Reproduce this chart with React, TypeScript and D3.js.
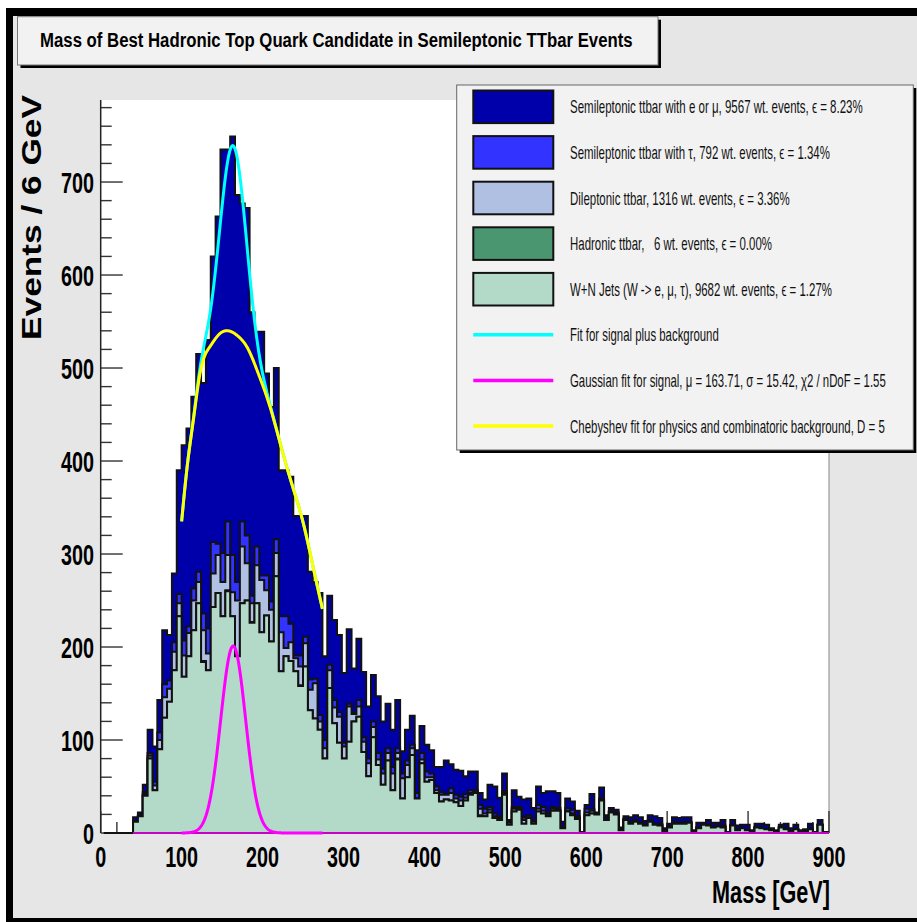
import React, { useLayoutEffect, useRef, useState } from 'react';
import * as d3 from 'd3';

// ---------- data ----------
const binStart = 4; // GeV, lower edge of first bin
const binWidth = 6; // GeV per bin

const wjets = [
  0, 0, 0, 0, 0, 0,
  12, 18, 40, 80, 46, 90, 124, 141, 175, 233,
  168, 190, 218, 247, 184, 175, 243, 258, 233, 260,
  233, 190, 247, 250, 226, 247, 216, 234, 206, 276,
  174, 190, 185, 174, 158, 179, 132, 123, 111, 80,
  156, 118, 97, 80, 98, 120, 125, 87, 61, 103,
  73, 52, 78, 46, 79, 37, 60, 84, 37, 75,
  55, 57, 43, 34, 36, 35, 33, 29, 35, 41,
  43, 18, 18, 22, 16, 14, 41, 9, 23, 25,
  10, 16, 10, 23, 21, 18, 24, 24, 5, 23,
  19, 15, 0, 19, 21, 20, 35, 14, 22, 20,
  3, 14, 10, 12, 10, 8, 12, 9, 8, 2,
  6, 10, 10, 10, 11, 1, 5, 9, 8, 6,
  7, 6, 0, 8, 3, 5, 3, 1, 6, 5,
  4, 3, 1, 6, 4, 2, 4, 1, 2, 4,
  0, 9, 0, 0,
];

const hadronic = [
  0, 0, 0, 0, 0, 0, 0, 0, 0, 0,
  0, 0, 0, 0, 0, 0, 0, 0, 0, 0,
  1, 0, 0, 0, 0, 1, 0, 0, 0, 0,
  1, 0, 0, 0, 0, 0, 0, 0, 0, 0,
  1, 0, 0, 0, 0, 0, 0, 0, 0, 0,
  0, 0, 0, 0, 0, 0, 0, 0, 0, 0,
  1, 0, 0, 0, 0, 0, 0, 0, 0, 0,
  0, 0, 0, 0, 0, 0, 0, 1, 0, 0,
  0, 0, 0, 0, 0, 0, 0, 0, 0, 0,
  0, 0, 0, 0, 0, 0, 0, 0, 0, 0,
  0, 0, 0, 0, 0, 0, 0, 0, 0, 0,
  0, 0, 0, 0, 0, 0, 0, 0, 0, 0,
  0, 0, 0, 0, 0, 0, 0, 0, 0, 0,
  0, 0, 0, 0, 0, 0, 0, 0, 0, 0,
  0, 0, 0, 0, 0, 0, 0, 0, 0, 0,
];

const dilepton = [
  0, 0, 0, 0, 0, 0,
  0, 0, 2, 3, 5, 10, 22, 14, 20, 14,
  23, 25, 32, 23, 33, 18, 36, 41, 37, 38,
  26, 60, 61, 40, 20, 41, 56, 27, 34, 25,
  42, 9, 20, 14, 20, 25, 22, 38, 9, 11,
  19, 17, 28, 13, 38, 8, 11, 11, 14, 11,
  6, 12, 8, 18, 6, 22, 13, 7, 0, 4,
  5, 3, 3, 7, 5, 8, 4, 6, 3, 2,
  1, 7, 3, 3, 2, 1, 2, 2, 3, 2,
  4, 1, 2, 3, 3, 1, 2, 1, 1, 1,
  2, 1, 0, 3, 3, 1, 1, 1, 1, 1,
  0, 1, 1, 1, 1, 1, 1, 1, 1, 0,
  0, 1, 0, 1, 0, 0, 1, 0, 1, 0,
  0, 1, 0, 0, 0, 0, 0, 0, 0, 0,
  0, 0, 0, 0, 0, 0, 0, 0, 0, 0,
  0, 0, 0, 0,
];

const semiTau = [
  0, 0, 0, 0, 0, 0,
  1, 1, 2, 3, 4, 8, 14, 9, 10, 10,
  16, 7, 13, 11, 18, 27, 34, 12, 31, 36,
  40, 20, 27, 30, 8, 20, 5, 16, 9, 15,
  17, 34, 20, 3, 12, 7, 11, 5, 7, 9,
  6, 8, 5, 4, 3, 1, 7, 5, 5, 6,
  7, 5, 5, 7, 5, 5, 5, 4, 6, 7,
  6, 4, 4, 3, 1, 5, 4, 4, 4, 3,
  2, 4, 5, 3, 3, 2, 2, 1, 2, 1,
  3, 2, 2, 4, 4, 2, 2, 2, 1, 3,
  4, 2, 0, 4, 2, 0, 1, 1, 1, 1,
  1, 0, 1, 1, 0, 0, 1, 0, 1, 1,
  1, 1, 1, 1, 1, 0, 0, 0, 0, 1,
  1, 1, 0, 1, 1, 0, 0, 0, 0, 1,
  0, 0, 0, 0, 1, 0, 0, 0, 0, 1,
  0, 0, 0, 0,
];

const semiEMu = [
  0, 0, 0, 0, 0, 0,
  4, 3, 8, 25, 38, 35, 58, 49, 74, 133,
  210, 213, 206, 234, 248, 310, 307, 352, 434, 400,
  450, 416, 342, 352, 305, 231, 262, 217, 209, 184,
  157, 157, 158, 150, 150, 130, 116, 104, 131, 90,
  74, 86, 83, 75, 80, 48, 66, 70, 56, 50,
  61, 51, 48, 40, 52, 24, 33, 31, 46, 29,
  29, 25, 21, 27, 36, 26, 27, 28, 19, 20,
  20, 13, 10, 24, 29, 21, 19, 2, 18, 11,
  19, 18, 13, 20, 15, 24, 17, 16, 5, 10,
  9, 6, 1, 4, 16, 1, 12, 3, 3, 3,
  2, 3, 5, 5, 6, 4, 5, 8, 6, 2,
  3, 5, 5, 5, 5, 2, 5, 2, 5, 4,
  3, 6, 1, 5, 4, 4, 6, 2, 4, 4,
  5, 2, 2, 3, 5, 3, 5, 2, 2, 5,
  1, 5, 1, 1,
];

const xTicks = [0, 100, 200, 300, 400, 500, 600, 700, 800, 900];
const yTicks = [0, 100, 200, 300, 400, 500, 600, 700];

// Gaussian signal fit (legend parameters), amplitude
const gaussMu = 163.71;
const gaussSigma = 15.42;
const gaussAmp = 201;
const fitLow = 100;
const fitHigh = 274;

// Background (Chebyshev, D=5) curve points
const bgMass = [100, 107, 114.5, 122.7, 135, 146, 157.7, 170, 180.5, 194.8, 209.3, 224, 237, 250.4, 262, 274];
const bgValue = [335, 395, 444, 494, 523, 536, 540, 534, 523, 494, 458, 412, 373, 333, 288, 241];

const titleText = 'Mass of Best Hadronic Top Quark Candidate in Semileptonic TTbar Events';
const yTitle = 'Events / 6 GeV';
const xTitle = 'Mass [GeV]';

const legendLabels = [
  'Semileptonic ttbar with e or \u03bc, 9567 wt. events, \u03f5 = 8.23%',
  'Semileptonic ttbar with \u03c4, 792 wt. events, \u03f5 = 1.34%',
  'Dileptonic ttbar, 1316 wt. events, \u03f5 = 3.36%',
  'Hadronic ttbar,   6 wt. events, \u03f5 = 0.00%',
  'W+N Jets (W -> e, \u03bc, \u03c4), 9682 wt. events, \u03f5 = 1.27%',
  'Fit for signal plus background',
  'Gaussian fit for signal, \u03bc = 163.71, \u03c3 = 15.42, \u03c72 / nDoF = 1.55',
  'Chebyshev fit for physics and combinatoric background, D = 5',
];

// ---------- styles / layout ----------
const COL = {
  semi: '#0000aa',
  tau: '#3333ff',
  dilep: '#afc0e3',
  had: '#4a9670',
  wjets: '#b3d9c8',
  cyan: '#00ffff',
  magenta: '#ff00ff',
  yellow: '#ffff00',
  canvas: '#e6e6e6',
  box: '#f2f2f2',
};
const legendSwatch = [COL.semi, COL.tau, COL.dilep, COL.had, COL.wjets];
const legendLineCol = [COL.cyan, COL.magenta, COL.yellow];
const legendTextWidth = [293, 260, 220, 202, 262, 149, 316, 315];
const FONT = "'Liberation Sans', Arial, Helvetica, sans-serif";

function naturalSpline(xs: number[], ys: number[]) {
  const n = xs.length;
  const h = xs.slice(1).map((v, i) => v - xs[i]);
  const a = new Array(n).fill(0), b = new Array(n).fill(1), c = new Array(n).fill(0), d = new Array(n).fill(0);
  for (let i = 1; i < n - 1; i++) {
    a[i] = h[i - 1];
    b[i] = 2 * (h[i - 1] + h[i]);
    c[i] = h[i];
    d[i] = 6 * ((ys[i + 1] - ys[i]) / h[i] - (ys[i] - ys[i - 1]) / h[i - 1]);
  }
  const cp = new Array(n).fill(0), dp = new Array(n).fill(0);
  cp[0] = c[0] / b[0];
  dp[0] = d[0] / b[0];
  for (let i = 1; i < n; i++) {
    const den = b[i] - a[i] * cp[i - 1];
    cp[i] = c[i] / den;
    dp[i] = (d[i] - a[i] * dp[i - 1]) / den;
  }
  const M = new Array(n).fill(0);
  M[n - 1] = dp[n - 1];
  for (let i = n - 2; i >= 0; i--) M[i] = dp[i] - cp[i] * M[i + 1];
  return (v: number) => {
    let i = 0;
    while (i < n - 2 && v > xs[i + 1]) i++;
    const hi = h[i];
    const A = xs[i + 1] - v, B = v - xs[i];
    return (
      (M[i] * A * A * A) / (6 * hi) +
      (M[i + 1] * B * B * B) / (6 * hi) +
      (ys[i] / hi - (M[i] * hi) / 6) * A +
      (ys[i + 1] / hi - (M[i + 1] * hi) / 6) * B
    );
  };
}

type FitProps = {
  x: number;
  y: number;
  width: number;
  pre?: string;
  anchor?: 'start' | 'middle' | 'end';
  fontSize: number;
  bold?: boolean;
  fill?: string;
  children: string;
};

function FitText({ x, y, width, pre = '', anchor = 'start', fontSize, bold, fill = '#000', children }: FitProps) {
  const ref = useRef<SVGTextElement>(null);
  const [sx, setSx] = useState(1);
  useLayoutEffect(() => {
    if (ref.current) {
      const w = ref.current.getComputedTextLength();
      if (w > 0) setSx(width / w);
    }
  }, [width, children, fontSize]);
  return (
    <text
      ref={ref}
      transform={`translate(${x},${y}) ${pre} scale(${sx},1)`}
      textAnchor={anchor}
      fontSize={fontSize}
      fontWeight={bold ? 'bold' : 'normal'}
      fill={fill}
      style={{ whiteSpace: 'pre' }}
    >
      {children}
    </text>
  );
}

export default function App() {
  const W = 917, H = 922;
  const left = 100.7, right = 829, top = 100, bottom = 833;
  const x = d3.scaleLinear().domain([0, 900]).range([left, right]);
  const y = d3.scaleLinear().domain([0, 788.2]).range([bottom, top]);
  const n = wjets.length;

  const layers = [wjets, hadronic, dilepton, semiTau, semiEMu];
  const layerCols = [COL.wjets, COL.had, COL.dilep, COL.tau, COL.semi];
  const cum: number[][] = [];
  let acc = new Array(n).fill(0);
  layers.forEach((l) => {
    acc = acc.map((v: number, i: number) => v + (l[i] || 0));
    cum.push(acc);
  });

  const stepPath = (vals: number[]) => {
    let d = `M${x(binStart)},${y(0)}`;
    vals.forEach((v, i) => {
      const lo = binStart + i * binWidth;
      d += `L${x(lo)},${y(v)}L${x(lo + binWidth)},${y(v)}`;
    });
    d += `L${x(binStart + n * binWidth)},${y(0)}Z`;
    return d;
  };

  const bg = naturalSpline(bgMass, bgValue);
  const gauss = (m: number) => gaussAmp * Math.exp(-0.5 * Math.pow((m - gaussMu) / gaussSigma, 2));
  const ms = d3.range(fitLow, fitHigh + 0.001, 0.5);
  const line = d3.line<[number, number]>().x((d) => x(d[0])).y((d) => y(d[1]));
  const bgPath = line(ms.map((m) => [m, bg(m)] as [number, number])) || '';
  const gPath = line(ms.map((m) => [m, gauss(m)] as [number, number])) || '';
  const totPath = line(ms.map((m) => [m, bg(m) + gauss(m)] as [number, number])) || '';

  const firstBin = cum[4].findIndex((v) => v > 0);
  const minorY = d3.range(0, 788, 20);
  const minorX = d3.range(0, 901, 20);

  const rowY = (k: number) => 106.8 + 45.6 * k;

  return (
    <svg width={W} height={H} style={{ position: 'absolute', left: 0, top: 0, fontFamily: FONT }}>
      <defs>
        <clipPath id="plotclip">
          <rect x={left} y={top} width={right - left} height={bottom - top + 2} />
        </clipPath>
      </defs>
      <rect x={0} y={0} width={W} height={H} fill="#ffffff" />
      <rect x={6} y={8} width={W - 6} height={H - 8} fill="#000" />
      <rect x={13} y={16} width={W - 13} height={918 - 16} fill={COL.canvas} />

      {/* plot area */}
      <rect x={left} y={top} width={right - left} height={bottom - top} fill="#fff" />
      <line x1={right} y1={top} x2={right} y2={bottom} stroke="#888" strokeWidth={1} />

      {/* ticks (under histograms) */}
      <g stroke="#333" strokeWidth={1.4}>
        {minorY.map((v) => (
          <line key={'my' + v} x1={left} x2={left + (v % 100 === 0 ? 22 : 11)} y1={y(v)} y2={y(v)} />
        ))}
        {minorX.map((v) => (
          <line key={'mx' + v} x1={x(v)} x2={x(v)} y1={bottom} y2={bottom - (v % 100 === 0 ? 22 : 11)} />
        ))}
      </g>

      {/* stacked histogram */}
      <g clipPath="url(#plotclip)">
        {[4, 3, 2, 1, 0].map((k) => (
          <path
            key={k}
            d={stepPath(cum[k])}
            fill={layerCols[k]}
            stroke="#111"
            strokeWidth={2}
            strokeLinejoin="miter"
          />
        ))}
        <line x1={x(binStart + firstBin * binWidth)} x2={x(900)} y1={bottom} y2={bottom} stroke={COL.magenta} strokeWidth={1.3} />
      </g>

      {/* fits */}
      <path d={totPath} fill="none" stroke={COL.cyan} strokeWidth={3} />
      <path d={bgPath} fill="none" stroke={COL.yellow} strokeWidth={3} />
      <path d={gPath} fill="none" stroke={COL.magenta} strokeWidth={3} />

      {/* axes */}
      <line x1={left} y1={top} x2={left} y2={bottom} stroke="#222" strokeWidth={1.5} />

      {yTicks.map((v) => (
        <FitText key={'yl' + v} x={94} y={y(v) + 10.5} anchor="end" fontSize={30} bold width={String(v).length * 11}>
          {String(v)}
        </FitText>
      ))}
      {xTicks.map((v) => (
        <FitText key={'xl' + v} x={x(v)} y={867} anchor="middle" fontSize={30} bold width={String(v).length * 11}>
          {String(v)}
        </FitText>
      ))}
      <FitText x={830} y={903} anchor="end" fontSize={31} bold width={118}>
        {xTitle}
      </FitText>
      <FitText x={41} y={217.5} pre="rotate(-90)" anchor="middle" fontSize={28} bold width={245}>
        {yTitle}
      </FitText>

      {/* title box */}
      <rect x={20.5} y={19.7} width={640.5} height={48.3} fill="#000" />
      <rect x={17.5} y={16.7} width={640.5} height={48.3} fill={COL.box} stroke="#777" strokeWidth={1} />
      <FitText x={336.3} y={47} anchor="middle" fontSize={21} bold width={593}>
        {titleText}
      </FitText>

      {/* legend */}
      <rect x={459.7} y={88} width={456.6} height={365} fill="#000" />
      <rect x={456.7} y={85} width={456.6} height={365} fill={COL.box} stroke="#666" strokeWidth={1} />
      {legendLabels.map((lab, k) => (
        <g key={'lg' + k}>
          {k < 5 ? (
            <rect
              x={473.3}
              y={rowY(k) - 16.3}
              width={80}
              height={32.6}
              fill={legendSwatch[k]}
              stroke="#111"
              strokeWidth={2}
            />
          ) : (
            <line x1={473.3} x2={553.3} y1={rowY(k)} y2={rowY(k)} stroke={legendLineCol[k - 5]} strokeWidth={3.5} />
          )}
          <FitText x={570} y={rowY(k) + 6.5} fontSize={18} fill="#111" width={legendTextWidth[k]}>
            {lab}
          </FitText>
        </g>
      ))}
    </svg>
  );
}
